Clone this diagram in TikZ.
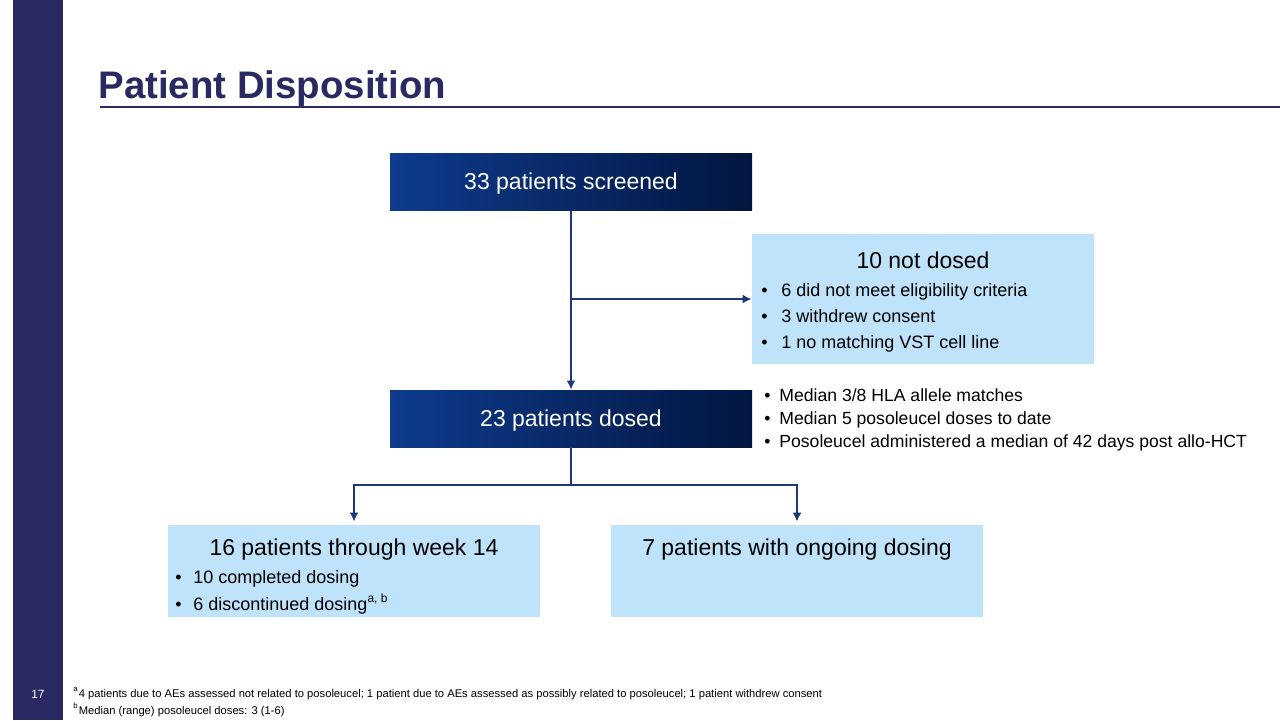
\documentclass[tikz,border=0pt]{standalone}
\usepackage{fontspec}
\setmainfont{Liberation Sans}
\usetikzlibrary{arrows.meta}
\definecolor{navy}{RGB}{41,42,98}
\definecolor{boxblue}{RGB}{14,59,141}
\definecolor{boxdark}{RGB}{2,22,64}
\definecolor{paleblue}{RGB}{191,227,250}
\definecolor{linkblue}{RGB}{30,55,120}
\tikzset{
	darkbox/.style={
		rectangle,
		inner sep=0pt,
		text depth=0pt,
		left color=boxblue,
		right color=boxdark,
		text=white,
		font=\fontsize{11.5}{13}\selectfont
	},
	palebox/.style={rectangle, fill=paleblue, inner sep=0pt},
	boxhead/.style={anchor=base, inner sep=0pt, font=\fontsize{11.5}{13}\selectfont},
	bulletline/.style={anchor=base west, inner sep=0pt, font=\fontsize{9}{11}\selectfont},
	sideline/.style={anchor=base west, inner sep=0pt, font=\fontsize{8.8}{11}\selectfont},
	noteline/.style={anchor=base west, inner sep=0pt, font=\fontsize{5.6}{7}\selectfont},
	link/.style={draw=linkblue, line width=1pt},
	linkarrow/.style={link, -{Latex[length=4.5pt,width=4.5pt]}}
}

\begin{document}
\begin{tikzpicture}[x=0.5pt, y=-0.5pt]
		\useasboundingbox (0,0) rectangle (1280,720);
		% page frame
		\fill[navy] (13,0) rectangle (63,720);
		\node[text=white, font=\fontsize{6}{7}\selectfont] (pagenum) at (38,694) {17};
		\node[anchor=base west, inner sep=0pt, text=navy, font=\bfseries\fontsize{19.2}{22}\selectfont] (title) at (98,98) {Patient Disposition};
		\draw[navy, line width=1pt] (100,107) -- (1280,107);
		
		% boxes
		\node[darkbox, minimum width=181pt, minimum height=28.5pt] (screened) at (571,181.5) {33 patients screened};
		\node[palebox, minimum width=171pt, minimum height=65pt] (notdosed) at (923,299) {};
		\node[darkbox, minimum width=181pt, minimum height=28.5pt] (dosed) at (571,418.5) {23 patients dosed};
		\node[palebox, minimum width=186pt, minimum height=46pt] (week14) at (354,571) {};
		\node[palebox, minimum width=186pt, minimum height=46pt] (ongoing) at (797,571) {};
		
		% box texts
		\node[boxhead] (notdosedhead) at (923,268) {10 not dosed};
		\node[bulletline] (nd1) at (761,296) {\makebox[10pt][l]{•}6 did not meet eligibility criteria};
		\node[bulletline] (nd2) at (761,322) {\makebox[10pt][l]{•}3 withdrew consent};
		\node[bulletline] (nd3) at (761,348) {\makebox[10pt][l]{•}1 no matching VST cell line};
		\node[sideline] (side1) at (764,401) {\makebox[7.5pt][l]{•}Median 3/8 HLA allele matches};
		\node[sideline] (side2) at (764,424) {\makebox[7.5pt][l]{•}Median 5 posoleucel doses to date};
		\node[sideline] (side3) at (764,447) {\makebox[7.5pt][l]{•}Posoleucel administered a median of 42 days post allo-HCT};
		\node[boxhead] (week14head) at (354,555) {16 patients through week 14};
		\node[bulletline] (wk1) at (175,583) {\makebox[9pt][l]{•}10 completed dosing};
		\node[bulletline] (wk2) at (175,610) {\makebox[9pt][l]{•}6 discontinued dosing\textsuperscript{a, b}};
		\node[boxhead] (ongoinghead) at (797,555) {7 patients with ongoing dosing};
		
		% connectors
		\coordinate (split1) at (571,299);
		\coordinate (split2) at (571,485);
		\draw[linkarrow] (screened.south) -- (dosed.north);
		\draw[linkarrow] (split1) -- (notdosed.west);
		\draw[link] (dosed.south) -- (split2);
		\draw[linkarrow, shorten >=1.5pt] (split2) -| (week14.north);
		\draw[linkarrow, shorten >=1.5pt] (split2) -| (ongoing.north);
		
		% footnotes
		\node[noteline] (notea) at (73,697) {\textsuperscript{a}4 patients due to AEs assessed not related to posoleucel; 1 patient due to AEs assessed as possibly related to posoleucel; 1 patient withdrew consent};
		\node[noteline] (noteb) at (73,714) {\textsuperscript{b}Median (range) posoleucel doses: 3 (1-6)};
\end{tikzpicture}
\end{document}
